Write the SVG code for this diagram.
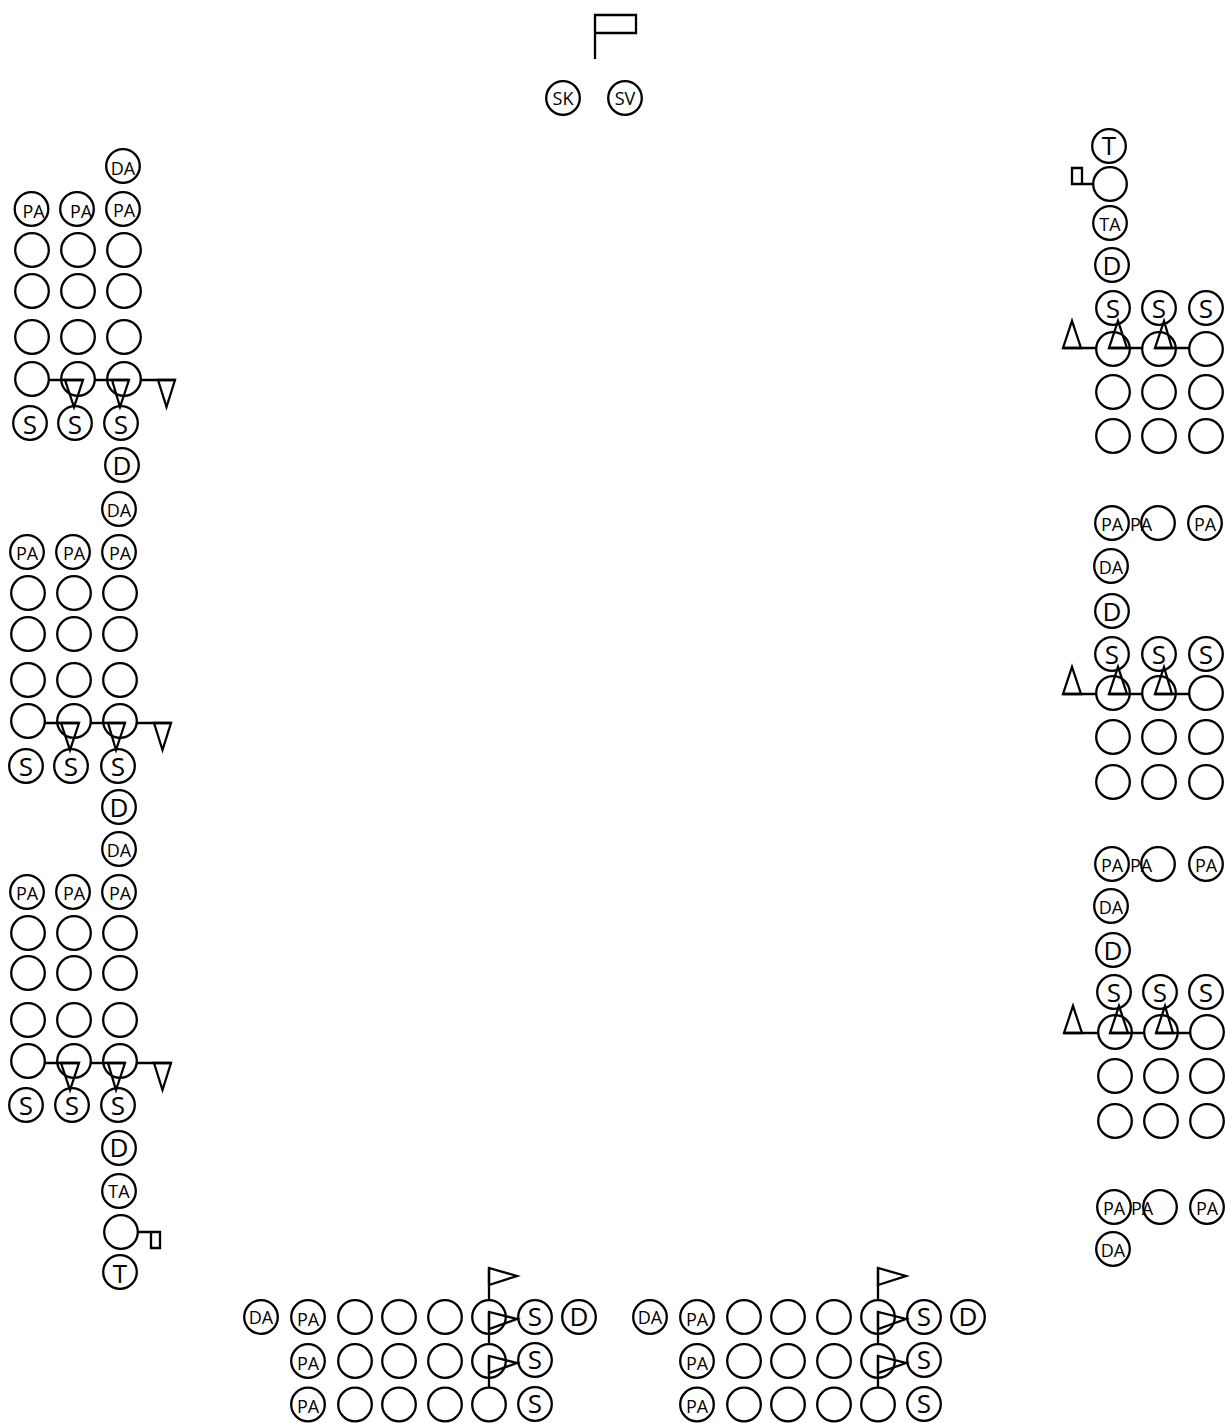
<svg xmlns="http://www.w3.org/2000/svg" width="1225" height="1423" viewBox="0 0 1225 1423">
<style>
circle{fill:none;stroke:#000;stroke-width:2.3;}
text{font-family:"Open Sans","Noto Sans",sans-serif;fill:#000;text-anchor:middle;}
.s{font-size:18px;}
.b{font-size:26px;}
#connectors line,#connectors polygon,#connectors polyline{fill:none;stroke:#000;stroke-width:2.3;}
</style>
<defs><circle id="c" r="16.8"/></defs>
<g id="connectors">
<polyline points="595,59 595,15 636,15 636,33 595,33"/>
<line x1="49" y1="380" x2="83" y2="380"/><polygon points="65,380 83,380 74,407"/>
<line x1="95" y1="380" x2="129" y2="380"/><polygon points="112,380 129,380 120,407"/>
<line x1="141" y1="380" x2="175" y2="380"/><polygon points="158,380 175,380 166.500,407"/>
<line x1="45" y1="723" x2="79" y2="723"/><polygon points="61,723 79,723 70,750"/>
<line x1="91" y1="723" x2="125" y2="723"/><polygon points="108,723 125,723 116,750"/>
<line x1="137" y1="723" x2="171" y2="723"/><polygon points="154,723 171,723 162.500,750"/>
<line x1="45" y1="1063" x2="79" y2="1063"/><polygon points="61,1063 79,1063 70,1090"/>
<line x1="91" y1="1063" x2="125" y2="1063"/><polygon points="108,1063 125,1063 116,1090"/>
<line x1="137" y1="1063" x2="171" y2="1063"/><polygon points="154,1063 171,1063 162.500,1090"/>
<polyline points="138,1232 151,1232 151,1248 160,1248 160,1232 151,1232"/>
<polyline points="1093,184 1072,184 1072,168 1082,168 1082,184"/>
<line x1="1063" y1="348" x2="1096" y2="348"/><polygon points="1063,348 1081,348 1072,321"/>
<line x1="1109" y1="348" x2="1142" y2="348"/><polygon points="1109,348 1127,348 1118,321"/>
<line x1="1155" y1="348" x2="1189" y2="348"/><polygon points="1155,348 1172,348 1164,321"/>
<line x1="1063" y1="694" x2="1096" y2="694"/><polygon points="1063,694 1081,694 1072,667"/>
<line x1="1109" y1="694" x2="1142" y2="694"/><polygon points="1109,694 1127,694 1118,667"/>
<line x1="1155" y1="694" x2="1189" y2="694"/><polygon points="1155,694 1172,694 1164,667"/>
<line x1="1064" y1="1033" x2="1098" y2="1033"/><polygon points="1064,1033 1082,1033 1073,1006"/>
<line x1="1110" y1="1033" x2="1144" y2="1033"/><polygon points="1110,1033 1128,1033 1119,1006"/>
<line x1="1156" y1="1033" x2="1190" y2="1033"/><polygon points="1156,1033 1173,1033 1165,1006"/>
<line x1="489" y1="1268" x2="489" y2="1300"/><polygon points="489,1268 489,1285 517,1276"/>
<line x1="489" y1="1312" x2="489" y2="1344"/><polygon points="489,1312 489,1329 517,1319"/>
<line x1="489" y1="1356" x2="489" y2="1388"/><polygon points="489,1356 489,1373 517,1363"/>
<line x1="878" y1="1268" x2="878" y2="1300"/><polygon points="878,1268 878,1285 906,1276"/>
<line x1="878" y1="1312" x2="878" y2="1344"/><polygon points="878,1312 878,1329 906,1319"/>
<line x1="878" y1="1356" x2="878" y2="1388"/><polygon points="878,1356 878,1373 906,1363"/>
</g>
<g id="top">
<g id="sk"><use href="#c" x="563" y="98"/><text class="s" x="563" y="105">SK</text></g>
<g id="sv"><use href="#c" x="625" y="98"/><text class="s" x="625" y="105">SV</text></g>
</g>
<g id="left1">
<g id="l1da"><use href="#c" x="123" y="166"/><text class="s" x="123" y="175">DA</text></g>
<g id="l1pa1"><use href="#c" x="31.500" y="209"/><text class="s" x="33.500" y="218">PA</text></g>
<g id="l1pa2"><use href="#c" x="77" y="209"/><text class="s" x="81" y="218">PA</text></g>
<g id="l1pa3"><use href="#c" x="123" y="209"/><text class="s" x="124" y="217">PA</text></g>
<g id="l1a1"><use href="#c" x="32" y="250"/></g><g id="l1a2"><use href="#c" x="78" y="250"/></g><g id="l1a3"><use href="#c" x="124" y="250"/></g>
<g id="l1b1"><use href="#c" x="32" y="291"/></g><g id="l1b2"><use href="#c" x="78" y="291"/></g><g id="l1b3"><use href="#c" x="124" y="291"/></g>
<g id="l1c1"><use href="#c" x="32" y="337"/></g><g id="l1c2"><use href="#c" x="78" y="337"/></g><g id="l1c3"><use href="#c" x="124" y="337"/></g>
<g id="l1d1"><use href="#c" x="32" y="379"/></g><g id="l1d2"><use href="#c" x="78" y="379"/></g><g id="l1d3"><use href="#c" x="124" y="379"/></g>
<g id="l1s1"><use href="#c" x="30" y="423"/><text class="b" x="30" y="434">S</text></g>
<g id="l1s2"><use href="#c" x="75" y="423"/><text class="b" x="75" y="434">S</text></g>
<g id="l1s3"><use href="#c" x="121" y="423"/><text class="b" x="121" y="434">S</text></g>
<g id="l1dd"><use href="#c" x="122" y="465"/><text class="b" x="122" y="475">D</text></g>
</g>
<g id="left2">
<g id="l2da"><use href="#c" x="119" y="509"/><text class="s" x="119" y="517">DA</text></g>
<g id="l2pa1"><use href="#c" x="27" y="552"/><text class="s" x="27" y="560">PA</text></g>
<g id="l2pa2"><use href="#c" x="73" y="552"/><text class="s" x="74" y="560">PA</text></g>
<g id="l2pa3"><use href="#c" x="119" y="552"/><text class="s" x="120" y="560">PA</text></g>
<g id="l2a1"><use href="#c" x="28" y="593"/></g><g id="l2a2"><use href="#c" x="74" y="593"/></g><g id="l2a3"><use href="#c" x="120" y="593"/></g>
<g id="l2b1"><use href="#c" x="28" y="634"/></g><g id="l2b2"><use href="#c" x="74" y="634"/></g><g id="l2b3"><use href="#c" x="120" y="634"/></g>
<g id="l2c1"><use href="#c" x="28" y="680"/></g><g id="l2c2"><use href="#c" x="74" y="680"/></g><g id="l2c3"><use href="#c" x="120" y="680"/></g>
<g id="l2d1"><use href="#c" x="28" y="721"/></g><g id="l2d2"><use href="#c" x="74" y="721"/></g><g id="l2d3"><use href="#c" x="120" y="721"/></g>
<g id="l2s1"><use href="#c" x="26" y="766"/><text class="b" x="26" y="776">S</text></g>
<g id="l2s2"><use href="#c" x="71" y="766"/><text class="b" x="71" y="776">S</text></g>
<g id="l2s3"><use href="#c" x="118" y="766"/><text class="b" x="118" y="776">S</text></g>
<g id="l2dd"><use href="#c" x="119" y="807"/><text class="b" x="119" y="817">D</text></g>
</g>
<g id="left3">
<g id="l3da"><use href="#c" x="119" y="849"/><text class="s" x="119" y="857">DA</text></g>
<g id="l3pa1"><use href="#c" x="27" y="892"/><text class="s" x="27" y="900">PA</text></g>
<g id="l3pa2"><use href="#c" x="73" y="892"/><text class="s" x="74" y="900">PA</text></g>
<g id="l3pa3"><use href="#c" x="119" y="892"/><text class="s" x="120" y="900">PA</text></g>
<g id="l3a1"><use href="#c" x="28" y="933"/></g><g id="l3a2"><use href="#c" x="74" y="933"/></g><g id="l3a3"><use href="#c" x="120" y="933"/></g>
<g id="l3b1"><use href="#c" x="28" y="973"/></g><g id="l3b2"><use href="#c" x="74" y="973"/></g><g id="l3b3"><use href="#c" x="120" y="973"/></g>
<g id="l3c1"><use href="#c" x="28" y="1020"/></g><g id="l3c2"><use href="#c" x="74" y="1020"/></g><g id="l3c3"><use href="#c" x="120" y="1020"/></g>
<g id="l3d1"><use href="#c" x="28" y="1061"/></g><g id="l3d2"><use href="#c" x="74" y="1061"/></g><g id="l3d3"><use href="#c" x="120" y="1061"/></g>
<g id="l3s1"><use href="#c" x="26" y="1105"/><text class="b" x="26" y="1115">S</text></g>
<g id="l3s2"><use href="#c" x="72" y="1105"/><text class="b" x="72" y="1115">S</text></g>
<g id="l3s3"><use href="#c" x="118" y="1105"/><text class="b" x="118" y="1115">S</text></g>
<g id="l3dd"><use href="#c" x="119" y="1148"/><text class="b" x="119" y="1157">D</text></g>
<g id="l3ta"><use href="#c" x="119" y="1191"/><text class="s" x="119" y="1198">TA</text></g>
<g id="l3g"><use href="#c" x="121" y="1232"/></g>
<g id="l3t"><use href="#c" x="120" y="1272"/><text class="b" x="120" y="1283">T</text></g>
</g>
<g id="right1">
<g id="r1t"><use href="#c" x="1109" y="146"/><text class="b" x="1109" y="155">T</text></g>
<g id="r1g"><use href="#c" x="1110" y="184"/></g>
<g id="r1ta"><use href="#c" x="1110" y="223"/><text class="s" x="1110" y="231">TA</text></g>
<g id="r1d"><use href="#c" x="1112" y="265"/><text class="b" x="1112" y="275">D</text></g>
<g id="r1s1"><use href="#c" x="1113" y="308"/><text class="b" x="1113" y="318">S</text></g>
<g id="r1s2"><use href="#c" x="1159" y="308"/><text class="b" x="1159" y="318">S</text></g>
<g id="r1s3"><use href="#c" x="1206" y="308"/><text class="b" x="1206" y="318">S</text></g>
<g id="r1a1"><use href="#c" x="1113" y="349"/></g><g id="r1a2"><use href="#c" x="1159" y="349"/></g><g id="r1a3"><use href="#c" x="1206" y="349"/></g>
<g id="r1b1"><use href="#c" x="1113" y="392"/></g><g id="r1b2"><use href="#c" x="1159" y="392"/></g><g id="r1b3"><use href="#c" x="1206" y="392"/></g>
<g id="r1c1"><use href="#c" x="1113" y="436"/></g><g id="r1c2"><use href="#c" x="1159" y="436"/></g><g id="r1c3"><use href="#c" x="1206" y="436"/></g>
<g id="r1p1"><use href="#c" x="1112" y="523"/><text class="s" x="1112" y="531">PA</text></g>
<g id="r1p2"><use href="#c" x="1158" y="523"/><text class="s" x="1141" y="531">PA</text></g>
<g id="r1p3"><use href="#c" x="1205" y="523"/><text class="s" x="1205" y="531">PA</text></g>
</g>
<g id="right2">
<g id="r2da"><use href="#c" x="1111" y="566"/><text class="s" x="1111" y="574">DA</text></g>
<g id="r2d"><use href="#c" x="1112" y="611"/><text class="b" x="1112" y="621">D</text></g>
<g id="r2s1"><use href="#c" x="1112" y="654"/><text class="b" x="1112" y="664">S</text></g>
<g id="r2s2"><use href="#c" x="1159" y="654"/><text class="b" x="1159" y="664">S</text></g>
<g id="r2s3"><use href="#c" x="1206" y="654"/><text class="b" x="1206" y="664">S</text></g>
<g id="r2a1"><use href="#c" x="1113" y="693"/></g><g id="r2a2"><use href="#c" x="1159" y="693"/></g><g id="r2a3"><use href="#c" x="1206" y="693"/></g>
<g id="r2b1"><use href="#c" x="1113" y="737"/></g><g id="r2b2"><use href="#c" x="1159" y="737"/></g><g id="r2b3"><use href="#c" x="1206" y="737"/></g>
<g id="r2c1"><use href="#c" x="1113" y="782"/></g><g id="r2c2"><use href="#c" x="1159" y="782"/></g><g id="r2c3"><use href="#c" x="1206" y="782"/></g>
<g id="r2p1"><use href="#c" x="1112" y="864"/><text class="s" x="1112" y="872">PA</text></g>
<g id="r2p2"><use href="#c" x="1158" y="864"/><text class="s" x="1141" y="872">PA</text></g>
<g id="r2p3"><use href="#c" x="1206" y="864"/><text class="s" x="1206" y="872">PA</text></g>
</g>
<g id="right3">
<g id="r3da"><use href="#c" x="1111" y="906"/><text class="s" x="1111" y="914">DA</text></g>
<g id="r3d"><use href="#c" x="1113" y="950"/><text class="b" x="1113" y="960">D</text></g>
<g id="r3s1"><use href="#c" x="1114" y="992"/><text class="b" x="1114" y="1002">S</text></g>
<g id="r3s2"><use href="#c" x="1160" y="992"/><text class="b" x="1160" y="1002">S</text></g>
<g id="r3s3"><use href="#c" x="1206" y="992"/><text class="b" x="1206" y="1002">S</text></g>
<g id="r3a1"><use href="#c" x="1115" y="1032"/></g><g id="r3a2"><use href="#c" x="1161" y="1032"/></g><g id="r3a3"><use href="#c" x="1207" y="1032"/></g>
<g id="r3b1"><use href="#c" x="1115" y="1076"/></g><g id="r3b2"><use href="#c" x="1161" y="1076"/></g><g id="r3b3"><use href="#c" x="1207" y="1076"/></g>
<g id="r3c1"><use href="#c" x="1115" y="1121"/></g><g id="r3c2"><use href="#c" x="1161" y="1121"/></g><g id="r3c3"><use href="#c" x="1207" y="1121"/></g>
<g id="r3p1"><use href="#c" x="1114" y="1207"/><text class="s" x="1114" y="1215">PA</text></g>
<g id="r3p2"><use href="#c" x="1160" y="1207"/><text class="s" x="1142" y="1215">PA</text></g>
<g id="r3p3"><use href="#c" x="1207" y="1207"/><text class="s" x="1207" y="1215">PA</text></g>
<g id="r3da2"><use href="#c" x="1113" y="1249"/><text class="s" x="1113" y="1257">DA</text></g>
</g>
<g id="bottom1">
<g id="b1da"><use href="#c" x="261" y="1317"/><text class="s" x="261" y="1324">DA</text></g>
<g id="b1p1"><use href="#c" x="308" y="1317"/><text class="s" x="308" y="1326">PA</text></g>
<g id="b1p2"><use href="#c" x="308" y="1361"/><text class="s" x="308" y="1370">PA</text></g>
<g id="b1p3"><use href="#c" x="308" y="1404.500"/><text class="s" x="308" y="1413">PA</text></g>
<g id="b1a1"><use href="#c" x="355" y="1317"/></g><g id="b1a2"><use href="#c" x="399" y="1317"/></g><g id="b1a3"><use href="#c" x="445" y="1317"/></g><g id="b1a4"><use href="#c" x="489" y="1317"/></g>
<g id="b1b1"><use href="#c" x="355" y="1361"/></g><g id="b1b2"><use href="#c" x="399" y="1361"/></g><g id="b1b3"><use href="#c" x="445" y="1361"/></g><g id="b1b4"><use href="#c" x="489" y="1361"/></g>
<g id="b1c1"><use href="#c" x="355" y="1404.500"/></g><g id="b1c2"><use href="#c" x="399" y="1404.500"/></g><g id="b1c3"><use href="#c" x="445" y="1404.500"/></g><g id="b1c4"><use href="#c" x="489" y="1404.500"/></g>
<g id="b1s1"><use href="#c" x="535" y="1317"/><text class="b" x="535" y="1326">S</text></g>
<g id="b1s2"><use href="#c" x="535" y="1360"/><text class="b" x="535" y="1369">S</text></g>
<g id="b1s3"><use href="#c" x="535" y="1404"/><text class="b" x="535" y="1413">S</text></g>
<g id="b1d"><use href="#c" x="579" y="1317"/><text class="b" x="579" y="1326">D</text></g>
</g>
<g id="bottom2">
<g id="b2da"><use href="#c" x="650" y="1317"/><text class="s" x="650" y="1324">DA</text></g>
<g id="b2p1"><use href="#c" x="697" y="1317"/><text class="s" x="697" y="1326">PA</text></g>
<g id="b2p2"><use href="#c" x="697" y="1361"/><text class="s" x="697" y="1370">PA</text></g>
<g id="b2p3"><use href="#c" x="697" y="1404.500"/><text class="s" x="697" y="1413">PA</text></g>
<g id="b2a1"><use href="#c" x="744" y="1317"/></g><g id="b2a2"><use href="#c" x="788" y="1317"/></g><g id="b2a3"><use href="#c" x="834" y="1317"/></g><g id="b2a4"><use href="#c" x="878" y="1317"/></g>
<g id="b2b1"><use href="#c" x="744" y="1361"/></g><g id="b2b2"><use href="#c" x="788" y="1361"/></g><g id="b2b3"><use href="#c" x="834" y="1361"/></g><g id="b2b4"><use href="#c" x="878" y="1361"/></g>
<g id="b2c1"><use href="#c" x="744" y="1404.500"/></g><g id="b2c2"><use href="#c" x="788" y="1404.500"/></g><g id="b2c3"><use href="#c" x="834" y="1404.500"/></g><g id="b2c4"><use href="#c" x="878" y="1404.500"/></g>
<g id="b2s1"><use href="#c" x="924" y="1317"/><text class="b" x="924" y="1326">S</text></g>
<g id="b2s2"><use href="#c" x="924" y="1360"/><text class="b" x="924" y="1369">S</text></g>
<g id="b2s3"><use href="#c" x="924" y="1404"/><text class="b" x="924" y="1413">S</text></g>
<g id="b2d"><use href="#c" x="968" y="1317"/><text class="b" x="968" y="1326">D</text></g>
</g>
</svg>
